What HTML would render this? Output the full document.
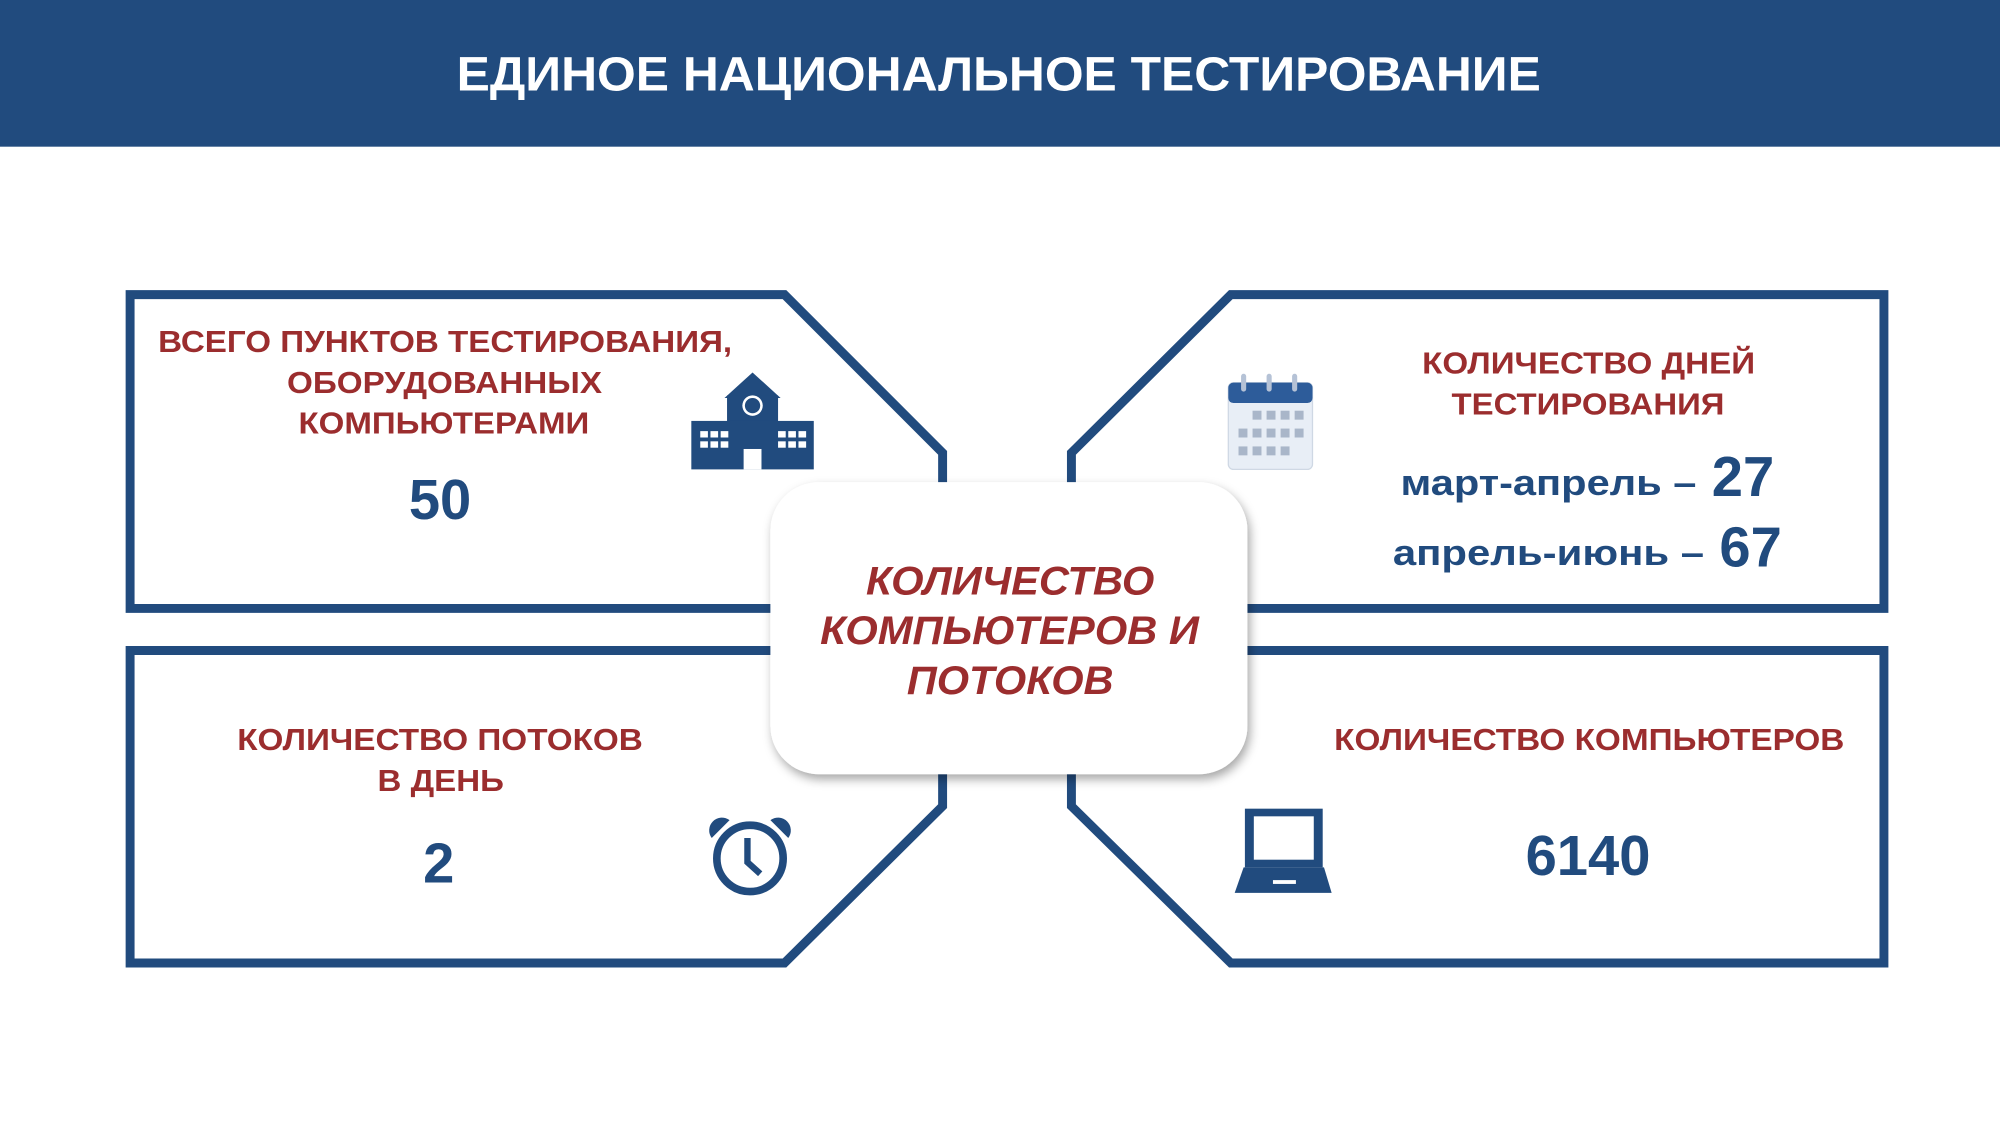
<!DOCTYPE html>
<html><head><meta charset="utf-8"><style>
html,body{margin:0;padding:0;background:#fff;}
svg{display:block;}
text{font-family:"Liberation Sans","DejaVu Sans",sans-serif;font-weight:bold;}
</style></head><body>
<svg width="2000" height="1125" viewBox="0 0 1568 882" preserveAspectRatio="none" xmlns="http://www.w3.org/2000/svg">
<defs>
<filter id="sh" x="-10%" y="-10%" width="130%" height="130%"><feDropShadow dx="2" dy="4" stdDeviation="4" flood-color="#000" flood-opacity="0.35"/></filter>
</defs>
<rect x="0" y="0" width="1568" height="115" fill="#214b7e"/>
<text x="358" y="71" fill="#fff" font-size="38" textLength="850" lengthAdjust="spacingAndGlyphs">ЕДИНОЕ НАЦИОНАЛЬНОЕ ТЕСТИРОВАНИЕ</text>
<g fill="none" stroke="#214b7e" stroke-width="7" stroke-linejoin="miter">
<path d="M102 231 L615 231 L739 355 L739 477 L102 477 Z"/>
<path d="M965 231 L1477 231 L1477 477 L840 477 L840 355 Z"/>
<path d="M102 510 L739 510 L739 632 L615 755 L102 755 Z"/>
<path d="M840 510 L1477 510 L1477 755 L965 755 L840 632 Z"/>
</g>
<rect x="604" y="378" width="374" height="229" rx="38" fill="#fff" filter="url(#sh)"/>
<g fill="#9b2d2e" font-size="31" font-style="italic" lengthAdjust="spacingAndGlyphs">
<text x="679" y="466" textLength="226" lengthAdjust="spacingAndGlyphs">КОЛИЧЕСТВО</text>
<text x="643" y="505" textLength="297" lengthAdjust="spacingAndGlyphs">КОМПЬЮТЕРОВ И</text>
<text x="711" y="544" textLength="162" lengthAdjust="spacingAndGlyphs">ПОТОКОВ</text>
</g>
<g fill="#9b2d2e" font-size="24">
<text x="124" y="276" textLength="450" lengthAdjust="spacingAndGlyphs">ВСЕГО ПУНКТОВ ТЕСТИРОВАНИЯ,</text>
<text x="225" y="308" textLength="247" lengthAdjust="spacingAndGlyphs">ОБОРУДОВАННЫХ</text>
<text x="234" y="340" textLength="228" lengthAdjust="spacingAndGlyphs">КОМПЬЮТЕРАМИ</text>
<text x="1115" y="293" textLength="261" lengthAdjust="spacingAndGlyphs">КОЛИЧЕСТВО ДНЕЙ</text>
<text x="1138" y="325" textLength="214" lengthAdjust="spacingAndGlyphs">ТЕСТИРОВАНИЯ</text>
<text x="186" y="588" textLength="318" lengthAdjust="spacingAndGlyphs">КОЛИЧЕСТВО ПОТОКОВ</text>
<text x="296" y="620" textLength="99" lengthAdjust="spacingAndGlyphs">В ДЕНЬ</text>
<text x="1046" y="588" textLength="400" lengthAdjust="spacingAndGlyphs">КОЛИЧЕСТВО КОМПЬЮТЕРОВ</text>
</g>
<g fill="#214b7e" text-anchor="middle">
<text x="345" y="407" font-size="44">50</text>
<text x="344" y="692" font-size="44">2</text>
<text x="1245" y="686" font-size="44">6140</text>
</g>
<g fill="#214b7e">
<text x="1098" y="388" font-size="28" textLength="232" lengthAdjust="spacingAndGlyphs">март-апрель –</text>
<text x="1342" y="389" font-size="44">27</text>
<text x="1092" y="443" font-size="28" textLength="244" lengthAdjust="spacingAndGlyphs">апрель-июнь –</text>
<text x="1348" y="444" font-size="44">67</text>
</g>
<!-- school icon -->
<g fill="#214b7e">
<polygon points="590,292 568,312 612,312"/>
<rect x="570" y="310" width="40" height="25"/>
<rect x="542" y="330" width="96" height="38"/>
<circle cx="590" cy="318" r="8" fill="#fff"/>
<circle cx="590" cy="318" r="6"/>
<rect x="583" y="352" width="14" height="16" fill="#fff"/>
<g fill="#fff">
<rect x="549" y="338" width="6" height="5"/><rect x="557" y="338" width="6" height="5"/><rect x="565" y="338" width="6" height="5"/>
<rect x="549" y="346" width="6" height="5"/><rect x="557" y="346" width="6" height="5"/><rect x="565" y="346" width="6" height="5"/>
<rect x="610" y="338" width="6" height="5"/><rect x="618" y="338" width="6" height="5"/><rect x="626" y="338" width="6" height="5"/>
<rect x="610" y="346" width="6" height="5"/><rect x="618" y="346" width="6" height="5"/><rect x="626" y="346" width="6" height="5"/>
</g>
</g>
<!-- calendar -->
<g>
<rect x="963" y="300" width="66" height="68" rx="4" fill="#e8eef6" stroke="#cfd8e4"/>
<rect x="963" y="300" width="66" height="16" rx="4" fill="#2d5c9a"/>
<g fill="#b5c2d6"><rect x="973" y="293" width="4" height="14" rx="2"/><rect x="993" y="293" width="4" height="14" rx="2"/><rect x="1013" y="293" width="4" height="14" rx="2"/></g>
<g fill="#a9b6c9">
<rect x="982" y="322" width="7" height="7"/><rect x="993" y="322" width="7" height="7"/><rect x="1004" y="322" width="7" height="7"/><rect x="1015" y="322" width="7" height="7"/>
<rect x="971" y="336" width="7" height="7"/><rect x="982" y="336" width="7" height="7"/><rect x="993" y="336" width="7" height="7"/><rect x="1004" y="336" width="7" height="7"/><rect x="1015" y="336" width="7" height="7"/>
<rect x="971" y="350" width="7" height="7"/><rect x="982" y="350" width="7" height="7"/><rect x="993" y="350" width="7" height="7"/><rect x="1004" y="350" width="7" height="7"/>
</g>
</g>
<!-- clock -->
<g stroke="#214b7e" fill="none">
<circle cx="588" cy="673" r="26" stroke-width="6"/>
<path d="M586 657 L586 676 L596 685" stroke-width="5"/>
</g>
<g fill="#214b7e"><path d="M558 657 a10 10 0 0 1 14 -14 z"/><path d="M618 657 a10 10 0 0 0 -14 -14 z"/></g>
<!-- laptop -->
<g fill="#214b7e">
<rect x="976" y="634" width="61" height="46"/>
<rect x="983" y="640" width="47" height="34" fill="#fff"/>
<polygon points="975,680 1038,680 1044,700 968,700"/>
<rect x="998" y="690" width="18" height="3" fill="#fff"/>
</g>
</svg>
</body></html>
